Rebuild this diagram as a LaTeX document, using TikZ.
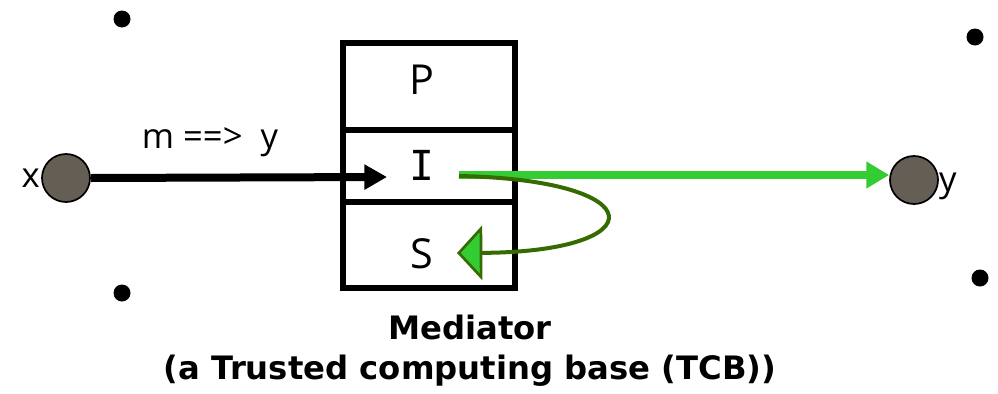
\documentclass[tikz,border=0pt]{standalone}
\usepackage{fontspec}
\setmainfont{Open Sans}
\newfontfamily\capfont{DejaVu Sans}
\newfontfamily\monofam{DejaVu Sans Mono}
\usetikzlibrary{arrows.meta}
\definecolor{ballfill}{HTML}{655E55}
\definecolor{litegreen}{HTML}{33CC33}
\definecolor{darkgreen}{HTML}{356B00}
\begin{document}
\begin{tikzpicture}[x=0.75pt,y=-0.75pt,
  cell/.style={draw,line width=4.5pt,minimum width=172*0.75pt,inner sep=0pt},
  ball/.style={circle,draw,line width=1.3pt,fill=ballfill,minimum size=48*0.75pt,inner sep=0pt},
  dot/.style={circle,fill=black,minimum size=17*0.75pt,inner sep=0pt},
  lbl/.style={font=\fontsize{26}{28}\selectfont,inner sep=0pt},
  big/.style={font=\fontsize{31}{34}\selectfont,inner sep=0pt},
  captxt/.style={font=\capfont\bfseries\fontsize{24.2}{26}\selectfont,inner sep=0pt}]
\useasboundingbox (0,0) rectangle (998,393);
% box cells
\node[cell,minimum height=87*0.75pt] (cP) at (429,86.5) {};
\node[cell,minimum height=72*0.75pt] (cI) at (429,166) {};
\node[cell,minimum height=86*0.75pt] (cS) at (429,245) {};
\node[big] (tP) at (422,80) {P};
\node[big,font=\monofam\fontsize{31}{34}\selectfont] (tI) at (422,165) {I};
\node[big] (tS) at (422,254) {S};
% balls
\node[ball] (bx) at (66,178) {};
\node[ball] (by) at (914,180) {};
\node[lbl,anchor=east] (lx) at ([xshift=-1*0.75pt]bx.west) {x};
\node[lbl,anchor=west] (ly) at ([yshift=-6*0.75pt]by.east) {y};
\node[lbl] (lm) at (210,142) {m ==>\ \ y};
% dots
\node[dot] (d1) at (122,19) {};
\node[dot] (d2) at (975,37) {};
\node[dot] (d3) at (122,293) {};
\node[dot] (d4) at (980,278) {};
% connectors
\coordinate (ain) at (387,177);
\coordinate (gst) at (459,175);
\coordinate (cst) at (459,176);
\coordinate (cend) at (457,253);
\draw[line width=6pt,-{Triangle[length=17pt,width=18pt]}] (bx.east) -- (ain);
\draw[line width=5.5pt,litegreen,-{Triangle[length=17pt,width=19pt]}] (gst) -- (by.west |- gst);
\draw[line width=3pt,darkgreen,-{Triangle[length=19pt,width=41pt,fill=litegreen,line width=2pt]}]
  (cst) .. controls (655,180) and (655,252) .. (cend);
% caption
\node[captxt] (m1) at (470,327) {Mediator};
\node[captxt] (m2) at (470,371) {(a Trusted computing base (TCB))};
\end{tikzpicture}
\end{document}
